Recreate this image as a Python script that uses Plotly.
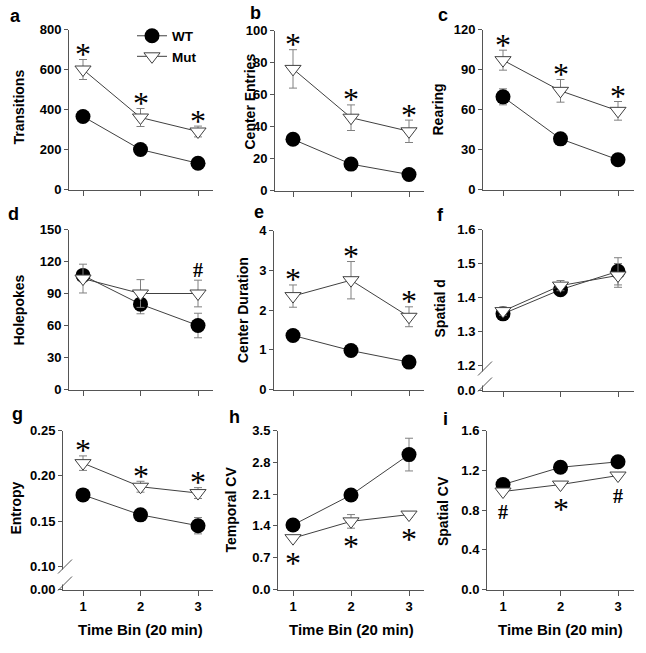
import plotly.graph_objects as go

W, H = 646, 653

# ---------------- data ----------------
bins = [1, 2, 3]
x_tick_labels = ["1", "2", "3"]
series_names = ["WT", "Mut"]
panel_letters = ["a", "b", "c", "d", "e", "f", "g", "h", "i"]
y_titles = ["Transitions", "Center Entries", "Rearing", "Holepokes", "Center Duration",
            "Spatial d", "Entropy", "Temporal CV", "Spatial CV"]
x_title = "Time Bin (20 min)"

wt_a = [365, 200, 131]
wt_a_err = [10, 8, 6]
mut_a = [600, 360, 290]
mut_a_err = [50, 45, 27]
sig_a = ["*", "*", "*"]
yticks_a = [0, 200, 400, 600, 800]
ylabels_a = ["0", "200", "400", "600", "800"]

wt_b = [32, 16.5, 10]
wt_b_err = [2.5, 2, 1.5]
mut_b = [76, 45.5, 37]
mut_b_err = [12, 8, 7]
sig_b = ["*", "*", "*"]
yticks_b = [0, 20, 40, 60, 80, 100]
ylabels_b = ["0", "20", "40", "60", "80", "100"]

wt_c = [69.5, 38, 22.3]
wt_c_err = [6, 2.5, 2]
mut_c = [97, 74, 59]
mut_c_err = [7.5, 8.5, 7]
sig_c = ["*", "*", "*"]
yticks_c = [0, 30, 60, 90, 120]
ylabels_c = ["0", "30", "60", "90", "120"]

wt_d = [107, 80, 60]
wt_d_err = [4, 9, 11.5]
mut_d = [104, 90, 90]
mut_d_err = [13.5, 13, 12.5]
sig_d = ["", "", "#"]
yticks_d = [0, 30, 60, 90, 120, 150]
ylabels_d = ["0", "30", "60", "90", "120", "150"]

wt_e = [1.36, 0.98, 0.69]
wt_e_err = [0.08, 0.06, 0.05]
mut_e = [2.35, 2.75, 1.83]
mut_e_err = [0.28, 0.47, 0.25]
sig_e = ["*", "*", "*"]
yticks_e = [0, 1, 2, 3, 4]
ylabels_e = ["0", "1", "2", "3", "4"]

wt_f = [1.352, 1.423, 1.477]
wt_f_err = [0.008, 0.008, 0.04]
mut_f = [1.36, 1.435, 1.465]
mut_f_err = [0.012, 0.015, 0.035]
sig_f = ["", "", ""]
yticks_f = [1.2, 1.3, 1.4, 1.5, 1.6]
ylabels_f = ["1.2", "1.3", "1.4", "1.5", "1.6"]
break_label_f = "0.0"

wt_g = [0.179, 0.157, 0.145]
wt_g_err = [0.003, 0.003, 0.009]
mut_g = [0.214, 0.188, 0.181]
mut_g_err = [0.008, 0.006, 0.006]
sig_g = ["*", "*", "*"]
yticks_g = [0.10, 0.15, 0.20, 0.25]
ylabels_g = ["0.10", "0.15", "0.20", "0.25"]
break_label_g = "0.00"

wt_h = [1.42, 2.08, 2.97]
wt_h_err = [0.06, 0.07, 0.36]
mut_h = [1.13, 1.50, 1.65]
mut_h_err = [0.05, 0.15, 0.06]
sig_h = ["*", "*", "*"]
yticks_h = [0, 0.7, 1.4, 2.1, 2.8, 3.5]
ylabels_h = ["0.0", "0.7", "1.4", "2.1", "2.8", "3.5"]

wt_i = [1.056, 1.23, 1.285]
wt_i_err = [0.02, 0.02, 0.02]
mut_i = [0.986, 1.056, 1.147]
mut_i_err = [0.02, 0.02, 0.02]
sig_i = ["#", "*", "#"]
yticks_i = [0, 0.4, 0.8, 1.2, 1.6]
ylabels_i = ["0.0", "0.4", "0.8", "1.2", "1.6"]

panels = [
    dict(wt=wt_a, wte=wt_a_err, mut=mut_a, mute=mut_a_err, sig=sig_a, sigpos="above", yt=yticks_a, yl=ylabels_a),
    dict(wt=wt_b, wte=wt_b_err, mut=mut_b, mute=mut_b_err, sig=sig_b, sigpos="above", yt=yticks_b, yl=ylabels_b),
    dict(wt=wt_c, wte=wt_c_err, mut=mut_c, mute=mut_c_err, sig=sig_c, sigpos="above", yt=yticks_c, yl=ylabels_c),
    dict(wt=wt_d, wte=wt_d_err, mut=mut_d, mute=mut_d_err, sig=sig_d, sigpos="above", yt=yticks_d, yl=ylabels_d),
    dict(wt=wt_e, wte=wt_e_err, mut=mut_e, mute=mut_e_err, sig=sig_e, sigpos="above", yt=yticks_e, yl=ylabels_e),
    dict(wt=wt_f, wte=wt_f_err, mut=mut_f, mute=mut_f_err, sig=sig_f, sigpos="above", yt=yticks_f, yl=ylabels_f,
         brk=break_label_f),
    dict(wt=wt_g, wte=wt_g_err, mut=mut_g, mute=mut_g_err, sig=sig_g, sigpos="above", yt=yticks_g, yl=ylabels_g,
         brk=break_label_g),
    dict(wt=wt_h, wte=wt_h_err, mut=mut_h, mute=mut_h_err, sig=sig_h, sigpos="below", yt=yticks_h, yl=ylabels_h),
    dict(wt=wt_i, wte=wt_i_err, mut=mut_i, mute=mut_i_err, sig=sig_i, sigpos="below", yt=yticks_i, yl=ylabels_i),
]

# ---------------- layout geometry (target pixels in the picture) ----------------
geom = [
    dict(l=69, r=213, t=29, b=189, t1=83, t3=198, letter=(15, 15), ytl=(19, 107)),
    dict(l=275, r=424, t=30, b=190, t1=293, t3=409, letter=(255, 12), ytl=(250, 101)),
    dict(l=483, r=634, t=29, b=189, t1=503, t3=618, letter=(443, 14), ytl=(438, 109)),
    dict(l=69, r=213, t=229, b=389, t1=83, t3=198, letter=(13, 213), ytl=(19, 310)),
    dict(l=274, r=424, t=230, b=389, t1=293, t3=409, letter=(259, 211), ytl=(242.5, 310)),
    dict(l=483, r=634, t=229, b=390, t1=503, t3=618, letter=(440, 214), ytl=(440, 308),
         brk_px=365, gap=(370, 386)),
    dict(l=63, r=213, t=430, b=589, t1=83, t3=198, letter=(17, 413), ytl=(16, 508),
         brk_px=566, gap=(568, 585)),
    dict(l=278, r=424, t=430, b=589, t1=293, t3=409, letter=(234, 416), ytl=(231, 509)),
    dict(l=487, r=634, t=430, b=589, t1=503, t3=618, letter=(445, 418), ytl=(442.5, 511)),
]
XTITLE_Y = 629
LEGEND_LEFT = 132
LEGEND_TOP = 20

# vertical calibration of the photographed page (observed: shown = 6.5 + 0.977 * layout)
V_OFF, V_SCALE = 6.5, 0.977

FONT = "Liberation Sans"
SERIF = "Liberation Serif"
AXC = "#555555"
LINEC = "#404040"
ERRC = "#808080"


def px_x(p):
    return p / W


def px_y(p):
    return 1 - ((p - V_OFF) / V_SCALE) / H


def bold(t):
    return "<b>" + t + "</b>"


fig = go.Figure()
annotations = []
shapes = []

for k, (pd_, g) in enumerate(zip(panels, geom)):
    sfx = "" if k == 0 else str(k + 1)
    xa, ya = "x" + sfx, "y" + sfx

    s = (g["t3"] - g["t1"]) / 2.0
    x_lo = 1 - (g["t1"] - g["l"]) / s
    x_hi = 3 + (g["r"] - g["t3"]) / s

    ytop = pd_["yt"][-1]
    tickvals = list(pd_["yt"])
    ticktext = [bold(t) for t in pd_["yl"]]
    if "brk" in pd_:
        brk_val = pd_["yt"][0]
        ppu = (g["brk_px"] - g["t"]) / (ytop - brk_val)
        y_lo = brk_val - (g["b"] - g["brk_px"]) / ppu
        tickvals = [y_lo] + tickvals
        ticktext = [bold(pd_["brk"])] + ticktext
    else:
        y_lo = pd_["yt"][0]

    bottom_row = k >= 6
    fig.update_layout(**{
        "xaxis" + sfx: dict(
            domain=[px_x(g["l"]), px_x(g["r"])], range=[x_lo, x_hi], anchor=ya,
            tickvals=bins, ticktext=[bold(t) for t in x_tick_labels], showticklabels=bottom_row,
            ticks="outside", ticklen=5, tickcolor=AXC, tickwidth=1,
            showline=True, linecolor=AXC, linewidth=1, showgrid=False, zeroline=False,
            tickfont=dict(family=FONT, size=13, color="black"),
            fixedrange=True,
        ),
        "yaxis" + sfx: dict(
            domain=[px_y(g["b"]), px_y(g["t"])], range=[y_lo, ytop], anchor=xa,
            tickvals=tickvals, ticktext=ticktext,
            ticks="outside", ticklen=4, tickcolor=AXC, tickwidth=1,
            showline=True, linecolor=AXC, linewidth=1, showgrid=False, zeroline=False,
            tickfont=dict(family=FONT, size=13, color="black"),
            fixedrange=True,
        ),
    })

    fig.add_trace(go.Scatter(
        x=bins, y=pd_["wt"], name=bold(series_names[0]), showlegend=(k == 0),
        mode="lines+markers", xaxis=xa, yaxis=ya, cliponaxis=False,
        line=dict(color=LINEC, width=1),
        marker=dict(symbol="circle", size=15, color="black", line=dict(width=0)),
        error_y=dict(type="data", array=pd_["wte"], color=ERRC, thickness=1, width=4),
    ))
    fig.add_trace(go.Scatter(
        x=bins, y=pd_["mut"], name=bold(series_names[1]), showlegend=(k == 0),
        mode="lines+markers", xaxis=xa, yaxis=ya, cliponaxis=False,
        line=dict(color=LINEC, width=1),
        marker=dict(symbol="triangle-down", size=14, color="white", line=dict(color=LINEC, width=1)),
        error_y=dict(type="data", array=pd_["mute"], color=ERRC, thickness=1, width=4),
    ))

    for xb, m, e, lab in zip(bins, pd_["mut"], pd_["mute"], pd_["sig"]):
        if not lab:
            continue
        corr = 4.5 if lab == "*" else 0
        size = 32 if lab == "*" else 20
        txt = lab if lab == "*" else bold(lab)
        if pd_["sigpos"] == "above":
            yv, ysh = m + e, 10 - corr
        else:
            yv, ysh = m, -20 - corr
        annotations.append(dict(
            x=xb, y=yv, xref=xa, yref=ya, text=txt, showarrow=False,
            xanchor="center", yanchor="middle", yshift=ysh, borderpad=0,
            font=dict(family=SERIF, size=size, color="black"),
        ))

    annotations.append(dict(
        x=px_x(g["letter"][0]), y=px_y(g["letter"][1]), xref="paper", yref="paper",
        text=bold(panel_letters[k]), showarrow=False, xanchor="center", yanchor="middle",
        borderpad=0, font=dict(family=FONT, size=18, color="black"),
    ))
    annotations.append(dict(
        x=px_x(g["ytl"][0]), y=px_y(g["ytl"][1]), xref="paper", yref="paper",
        text=bold(y_titles[k]), textangle=-90, showarrow=False, xanchor="center", yanchor="middle",
        borderpad=0, font=dict(family=FONT, size=14, color="black"),
    ))
    if bottom_row:
        annotations.append(dict(
            x=bins[1], y=px_y(XTITLE_Y), xref=xa, yref="paper",
            text=bold(x_title), showarrow=False, xanchor="center", yanchor="middle",
            borderpad=0, font=dict(family=FONT, size=15, color="black"),
        ))

    if "gap" in g:
        y1, y2 = g["gap"]
        ax = g["l"]
        shapes.append(dict(type="line", xref="paper", yref="paper", layer="above",
                           x0=px_x(ax), x1=px_x(ax), y0=px_y(y1 + 1), y1=px_y(y2 - 1),
                           line=dict(color="white", width=3)))
        for yy in (y1, y2):
            shapes.append(dict(type="line", xref="paper", yref="paper", layer="above",
                               x0=px_x(ax - 5), y0=px_y(yy + 5), x1=px_x(ax + 9), y1=px_y(yy - 9),
                               line=dict(color=AXC, width=1)))

fig.update_layout(
    width=W, height=H, margin=dict(l=0, r=0, t=0, b=0),
    paper_bgcolor="white", plot_bgcolor="white",
    annotations=annotations, shapes=shapes,
    legend=dict(x=px_x(LEGEND_LEFT), y=px_y(LEGEND_TOP), xanchor="left", yanchor="top",
                bgcolor="rgba(0,0,0,0)", tracegroupgap=0,
                font=dict(family=FONT, size=13.5, color="black")),
    font=dict(family=FONT),
)

fig.write_html(
    "out.html",
    config={"displayModeBar": False, "staticPlot": True, "responsive": False},
    post_script=(
        "document.documentElement.style.margin='0';"
        "document.documentElement.style.overflow='hidden';"
        "document.body.style.margin='0';document.body.style.overflow='hidden';"
        "var d=document.getElementById('{plot_id}');"
        "d.style.position='fixed';d.style.top='0px';d.style.left='0px';"
    ),
)
